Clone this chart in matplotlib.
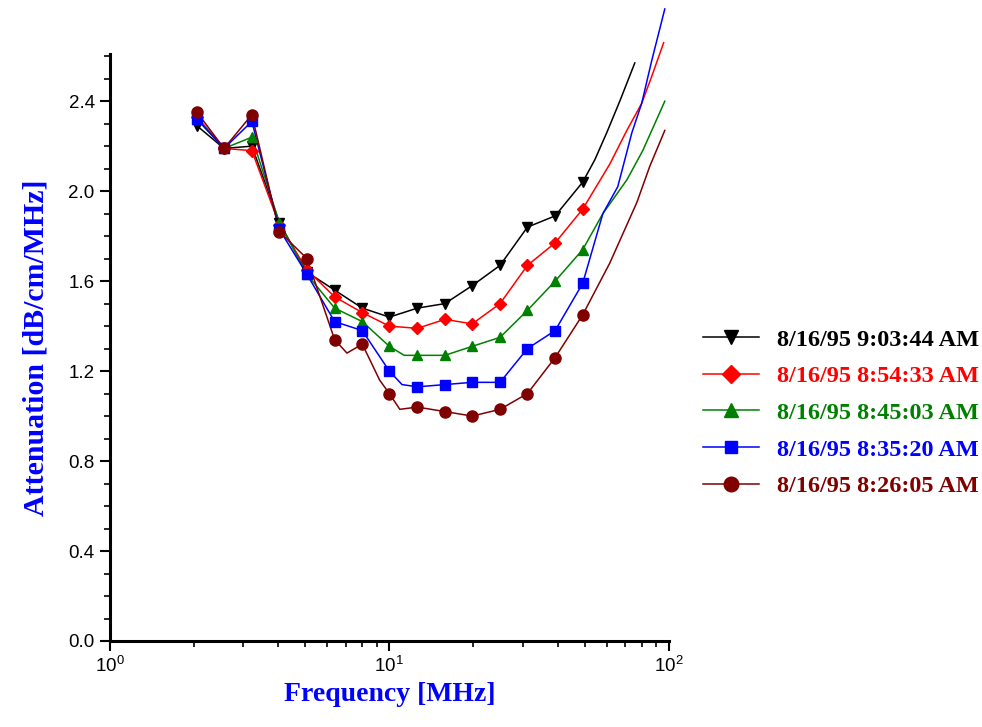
import numpy as np
import matplotlib
matplotlib.use("Agg")
import matplotlib.pyplot as plt
from matplotlib.ticker import FixedLocator, NullFormatter

# Frequences des points marques [MHz]
f_mark = [2.05, 2.56, 3.22, 4.04, 5.07, 6.37, 8.0, 10.0, 12.6, 15.8, 19.8, 24.9, 31.2, 39.2, 49.2]

# Attenuation aux points marques [dB/cm/MHz]
att_0903 = [2.29, 2.19, 2.20, 1.86, 1.64, 1.56, 1.48, 1.44, 1.48, 1.50, 1.58, 1.67, 1.84, 1.89, 2.04]
att_0854 = [2.33, 2.19, 2.18, 1.85, 1.65, 1.53, 1.46, 1.40, 1.39, 1.43, 1.41, 1.50, 1.67, 1.77, 1.92]
att_0845 = [2.32, 2.19, 2.24, 1.86, 1.63, 1.48, 1.42, 1.31, 1.27, 1.27, 1.31, 1.35, 1.47, 1.60, 1.74]
att_0835 = [2.32, 2.19, 2.31, 1.83, 1.63, 1.42, 1.38, 1.20, 1.13, 1.14, 1.15, 1.15, 1.30, 1.38, 1.59]
att_0826 = [2.35, 2.19, 2.34, 1.82, 1.70, 1.34, 1.32, 1.10, 1.04, 1.02, 1.00, 1.03, 1.10, 1.26, 1.45]

# Points de courbe sans marqueur
ext_f_0903 = [54.4, 60.0, 66.8, 75.6]
ext_0903 = [2.14, 2.26, 2.40, 2.57]
ext_f_0854 = [61.5, 70.8, 80.0, 86.9, 95.9]
ext_0854 = [2.12, 2.27, 2.39, 2.51, 2.66]
ext_f_0845 = [11.3, 58.1, 70.8, 80.7, 92.9, 96.8]
ext_0845 = [1.27, 1.90, 2.05, 2.18, 2.35, 2.40]
ext_f_0835 = [11.1, 58.1, 65.7, 73.8, 80.0, 86.9, 96.8]
ext_0835 = [1.14, 1.90, 2.02, 2.26, 2.39, 2.58, 2.81]
ext_f_0826 = [7.05, 9.23, 10.9, 61.5, 76.9, 85.5, 96.8]
ext_0826 = [1.28, 1.16, 1.03, 1.68, 1.95, 2.11, 2.27]

labels = ['8/16/95 9:03:44 AM', '8/16/95 8:54:33 AM', '8/16/95 8:45:03 AM',
          '8/16/95 8:35:20 AM', '8/16/95 8:26:05 AM']
couleurs = ['#000000', '#ff0000', '#008000', '#0000ff', '#800000']
marqueurs = ['v', 'D', '^', 's', 'o']
tailles = [7.5, 6.5, 7.5, 6.5, 8]

series = [(att_0903, ext_f_0903, ext_0903),
          (att_0854, ext_f_0854, ext_0854),
          (att_0845, ext_f_0845, ext_0845),
          (att_0835, ext_f_0835, ext_0835),
          (att_0826, ext_f_0826, ext_0826)]

plt.rcParams['mathtext.fontset'] = 'custom'
plt.rcParams['mathtext.rm'] = 'Liberation Sans'
plt.rcParams['mathtext.it'] = 'Liberation Sans'

fig = plt.figure(figsize=(9.82, 7.27), dpi=100)
ax = fig.add_axes([0.112, 0.1183, 0.569, 0.8075])

handles = []
for (att, ef, ea), c, m, s, lab in zip(series, couleurs, marqueurs, tailles, labels):
    f_all = np.array(f_mark + ef)
    a_all = np.array(att + ea)
    ordre = np.argsort(f_all)
    ax.plot(f_all[ordre], a_all[ordre], color=c, lw=1.1, clip_on=False, zorder=2)
    ax.plot(f_mark, att, ls='none', marker=m, ms=s, color=c, clip_on=False, zorder=3)
    h, = ax.plot([], [], color=c, lw=1.1, marker=m, ms=s + 2.5)
    handles.append(h)

ax.set_xscale('log')
ax.set_xlim(1, 100)
ax.set_ylim(0, 2.61)

ax.spines['top'].set_visible(False)
ax.spines['right'].set_visible(False)
ax.spines['left'].set_linewidth(2.2)
ax.spines['bottom'].set_linewidth(2.2)

ax.xaxis.set_major_locator(FixedLocator([1, 10, 100]))
ax.set_xticklabels([r'$10^{0}$', r'$10^{1}$', r'$10^{2}$'])
ax.xaxis.set_minor_locator(FixedLocator([2, 3, 4, 5, 6, 7, 8, 9, 20, 30, 40, 50, 60, 70, 80, 90]))
ax.xaxis.set_minor_formatter(NullFormatter())
ax.set_yticks([0.0, 0.4, 0.8, 1.2, 1.6, 2.0, 2.4])
ax.set_yticklabels(['0.0', '0.4', '0.8', '1.2', '1.6', '2.0', '2.4'])
ax.set_yticks(np.arange(0, 2.61, 0.1), minor=True)
ax.tick_params(which='major', length=7, width=1.5, direction='out', labelsize=13.5, pad=4)
ax.tick_params(which='minor', length=4, width=1.2, direction='out')
for t in ax.get_xticklabels() + ax.get_yticklabels():
    t.set_fontfamily('Liberation Sans')

ax.set_xlabel('Frequency [MHz]', fontsize=20, fontweight='bold',
              family='Liberation Serif', color='#0000ff', labelpad=4)
ax.set_ylabel('Attenuation [dB/cm/MHz]', fontsize=21.5, fontweight='bold',
              family='Liberation Serif', color='#0000ff', labelpad=14)

leg = fig.legend(handles, labels, loc='center left', bbox_to_anchor=(0.716, 0.432),
                 frameon=False, handlelength=2.3, handletextpad=0.75, labelspacing=0.6,
                 borderpad=0, borderaxespad=0,
                 prop={'family': 'Liberation Serif', 'weight': 'bold', 'size': 17.5})
for t, c in zip(leg.get_texts(), couleurs):
    t.set_color(c)

fig.savefig('out.png', dpi=100)
